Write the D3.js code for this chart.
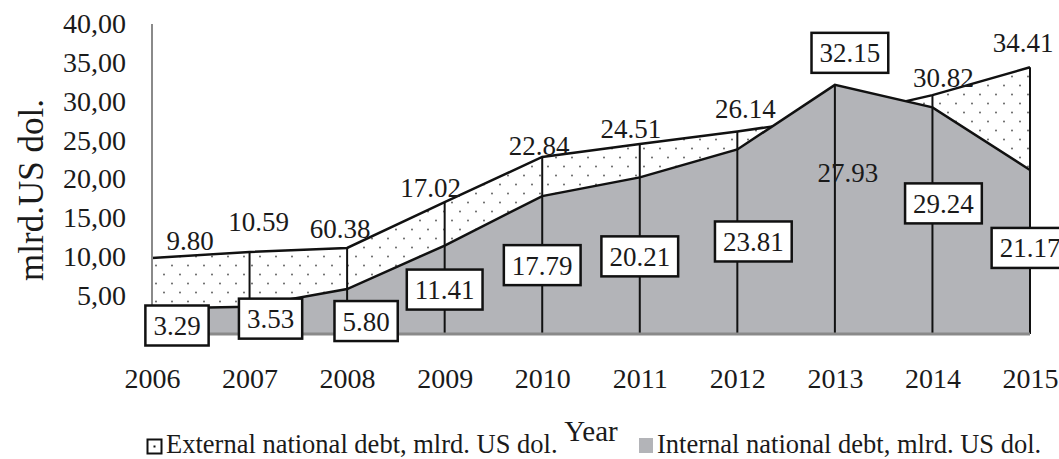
<!DOCTYPE html>
<html>
<head>
<meta charset="utf-8">
<script src="https://cdn.jsdelivr.net/npm/d3@7"></script>
<style>
  body { margin: 0; background: #fff; }
  text { font-family: "Liberation Serif", "Times New Roman", serif; fill: #1a1a1a; }
</style>
</head>
<body>
<div id="chart"></div>
<script>
var years = [2006, 2007, 2008, 2009, 2010, 2011, 2012, 2013, 2014, 2015];
var externalDebt = [9.80, 10.59, 11.10, 17.02, 22.84, 24.51, 26.14, 27.93, 30.82, 34.41];
var externalLabels = ["9.80", "10.59", "60.38", "17.02", "22.84", "24.51", "26.14", "27.93", "30.82", "34.41"];
var internalDebt = [3.29, 3.53, 5.80, 11.41, 17.79, 20.21, 23.81, 32.15, 29.24, 21.17];
var internalLabels = ["3.29", "3.53", "5.80", "11.41", "17.79", "20.21", "23.81", "32.15", "29.24", "21.17"];
var yTicks = [5, 10, 15, 20, 25, 30, 35, 40];

// hand placed label offsets (px), like the moved labels in the original
var extNudge = [[38, -8], [9, -21], [-7, -10], [-14, -5], [-3, -2], [-9, -6], [8, -13], [13, 64], [11, -8], [-7, -15]];
var intNudge = [[25, 17], [21, 12], [19, 32], [0, 44], [0, 69], [0, 79], [16, 92], [15, -32], [11, 96], [0, 78]];

var svgWidth = 1059;
var svgHeight = 459;

var svg = d3.select("#chart")
    .append("svg")
    .attr("width", svgWidth)
    .attr("height", svgHeight);

var x = d3.scaleLinear().domain([2006, 2015]).range([152, 1030]);
var y = d3.scaleLinear().domain([0, 40]).range([334, 24]);

var data = years.map(function (yr, i) {
    return { year: yr, ext: externalDebt[i], int: internalDebt[i], extLabel: externalLabels[i], intLabel: internalLabels[i], i: i };
});

// dotted pattern for external debt
var defs = svg.append("defs");
var pat = defs.append("pattern")
    .attr("id", "dots")
    .attr("patternUnits", "userSpaceOnUse")
    .attr("width", 16)
    .attr("height", 18);
pat.append("rect").attr("width", 16).attr("height", 18).attr("fill", "#fff");
pat.append("circle").attr("cx", 4).attr("cy", 4.5).attr("r", 0.9).attr("fill", "#555");
pat.append("circle").attr("cx", 12).attr("cy", 13.5).attr("r", 0.9).attr("fill", "#555");

var extArea = d3.area().x(d => x(d.year)).y0(y(0)).y1(d => y(d.ext));
var extLine = d3.line().x(d => x(d.year)).y(d => y(d.ext));
var intArea = d3.area().x(d => x(d.year)).y0(y(0)).y1(d => y(d.int));
var intLine = d3.line().x(d => x(d.year)).y(d => y(d.int));

svg.append("path").datum(data).attr("d", extArea).attr("fill", "url(#dots)");
svg.append("path").datum(data).attr("d", extLine).attr("fill", "none").attr("stroke", "#111").attr("stroke-width", 2.5);
svg.append("path").datum(data).attr("d", intArea).attr("fill", "#b3b4b8");
svg.append("path").datum(data).attr("d", intLine).attr("fill", "none").attr("stroke", "#111").attr("stroke-width", 2.5);

// drop lines
svg.selectAll(".drop")
    .data(data.slice(1))
    .enter()
    .append("line")
    .attr("x1", d => x(d.year))
    .attr("x2", d => x(d.year))
    .attr("y1", d => y(Math.max(d.ext, d.int)))
    .attr("y2", y(0))
    .attr("stroke", "#111")
    .attr("stroke-width", 2);

// axes
var leftAxis = d3.axisLeft(y)
    .tickValues(yTicks)
    .tickSize(0)
    .tickPadding(26)
    .tickFormat(d => d.toFixed(2).replace(".", ","));

var yAxis = svg.append("g")
    .attr("transform", `translate(${x(2006)},0)`)
    .call(leftAxis);
yAxis.select(".domain").remove();
yAxis.selectAll("text").attr("font-size", "28px").attr("fill", "#1a1a1a")
    .style("font-family", "'Liberation Serif', serif");

var bottomAxis = d3.axisBottom(x)
    .tickValues(years)
    .tickSize(0)
    .tickPadding(34)
    .tickFormat(d3.format("d"));

var xAxis = svg.append("g")
    .attr("transform", `translate(0,${y(0)})`)
    .call(bottomAxis);
xAxis.select(".domain").remove();
xAxis.selectAll("text").attr("font-size", "28px").attr("fill", "#1a1a1a")
    .style("font-family", "'Liberation Serif', serif");

svg.append("line")
    .attr("x1", x(2006)).attr("x2", x(2006))
    .attr("y1", y(40)).attr("y2", y(0))
    .attr("stroke", "#8a8a8a").attr("stroke-width", 2);
svg.append("line")
    .attr("x1", x(2006)).attr("x2", x(2015))
    .attr("y1", y(0)).attr("y2", y(0))
    .attr("stroke", "#8a8a8a").attr("stroke-width", 3);

// external labels
svg.selectAll(".extLabel")
    .data(data)
    .enter()
    .append("text")
    .attr("x", d => x(d.year) + extNudge[d.i][0])
    .attr("y", d => y(d.ext) + extNudge[d.i][1])
    .attr("text-anchor", "middle")
    .attr("font-size", "27px")
    .text(d => d.extLabel);

// internal labels in boxes
var boxes = svg.selectAll(".intLabel")
    .data(data)
    .enter()
    .append("g")
    .attr("transform", d => `translate(${x(d.year) + intNudge[d.i][0]},${y(d.int) + intNudge[d.i][1]})`);

boxes.append("rect")
    .attr("fill", "#fff")
    .attr("stroke", "#111")
    .attr("stroke-width", 2.5);

boxes.append("text")
    .attr("text-anchor", "middle")
    .attr("dy", "0.35em")
    .attr("font-size", "27px")
    .text(d => d.intLabel);

boxes.each(function () {
    var g = d3.select(this);
    var w = g.select("text").node().getComputedTextLength() + 16;
    g.select("rect")
        .attr("x", -w / 2)
        .attr("y", -20)
        .attr("width", w)
        .attr("height", 40);
});

// axis titles
svg.append("text")
    .attr("transform", "translate(43,190) rotate(-90)")
    .attr("text-anchor", "middle")
    .attr("font-size", "35px")
    .text("mlrd.US dol.");

svg.append("text")
    .attr("x", 591)
    .attr("y", 441)
    .attr("text-anchor", "middle")
    .attr("font-size", "29px")
    .text("Year");

// legend
svg.append("rect")
    .attr("x", 147.5).attr("y", 439.5).attr("width", 14).attr("height", 14)
    .attr("fill", "#fff").attr("stroke", "#111").attr("stroke-width", 2);
svg.append("rect")
    .attr("x", 153.5).attr("y", 445.5).attr("width", 2).attr("height", 2)
    .attr("fill", "#111");
svg.append("text")
    .attr("x", 166).attr("y", 453)
    .attr("font-size", "26.5px")
    .text("External national debt, mlrd. US dol.");

svg.append("rect")
    .attr("x", 639).attr("y", 438).attr("width", 14).attr("height", 15)
    .attr("fill", "#b3b4b8");
svg.append("text")
    .attr("x", 657).attr("y", 453)
    .attr("font-size", "26.5px")
    .text("Internal national debt, mlrd. US dol.");
</script>
</body>
</html>
